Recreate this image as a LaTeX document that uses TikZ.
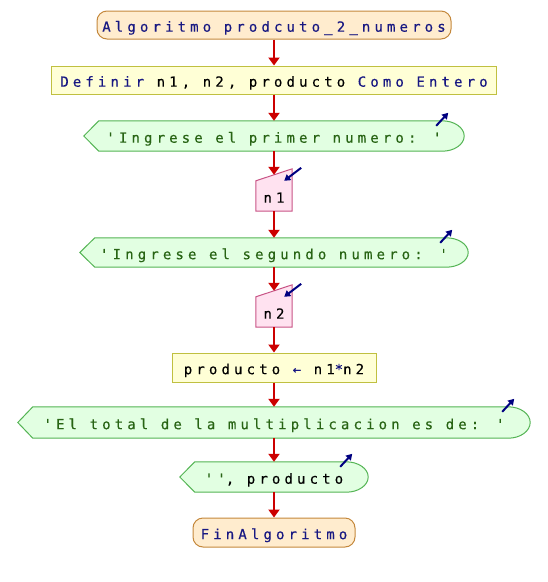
\documentclass[tikz,border=0pt]{standalone}
\usepackage{fontspec}
\usetikzlibrary{arrows.meta,backgrounds,calc}
\newfontfamily\psmono[LetterSpace=29.5,FakeBold=0.35]{DejaVu Sans Mono}

\definecolor{termfill}{RGB}{255,236,206}
\definecolor{termdraw}{RGB}{196,136,60}
\definecolor{procfill}{RGB}{255,255,214}
\definecolor{procdraw}{RGB}{192,192,64}
\definecolor{outfill}{RGB}{226,255,226}
\definecolor{outdraw}{RGB}{84,180,84}
\definecolor{infill}{RGB}{255,226,240}
\definecolor{indraw}{RGB}{200,84,134}
\definecolor{flowred}{RGB}{204,0,0}
\definecolor{iconblue}{RGB}{0,0,128}
\definecolor{kw}{RGB}{24,24,130}
\definecolor{strc}{RGB}{40,100,20}

\newcommand{\kwd}[1]{\textcolor{kw}{#1}}
\newcommand{\strg}[1]{\textcolor{strc}{#1}}

\tikzset{
  every node/.style={font=\psmono\fontsize{14}{16}\selectfont, inner sep=0pt,
    text=black, text height=16.4pt, text depth=3pt},
  terminal/.style={draw=termdraw, fill=termfill, rounded corners=10pt, line width=1pt},
  process/.style={draw=procdraw, fill=procfill, line width=1pt},
  outbox/.style={},
  inbox/.style={minimum width=36pt, minimum height=30pt},
  flow/.style={draw=flowred, line width=2pt, -{Triangle[length=8pt,width=11pt]}},
  icon/.style={draw=iconblue, line width=2pt, -{Triangle[length=6pt,width=7pt]}},
}

\begin{document}
\begin{tikzpicture}[x=1pt,y=-1pt]
\useasboundingbox (0,0) rectangle (548,582);

% blocks of the flowchart, top to bottom
\node[terminal, minimum width=354pt, minimum height=28pt] (start) at (274,25)
  {\kwd{Algoritmo prodcuto\_2\_numeros}};
\node[process, minimum width=445pt, minimum height=28pt] (def) at (274,80)
  {\kwd{Definir} n1, n2, producto \kwd{Como Entero}};
\node[outbox, minimum width=380pt, minimum height=30pt] (out1) at (274,136)
  {\strg{'Ingrese el primer numero: '}};
\node[inbox] (in1) at (274,196) {n1};
\node[outbox, minimum width=388pt, minimum height=29pt] (out2) at (274,252.5)
  {\strg{'Ingrese el segundo numero: '}};
\node[inbox] (in2) at (274,312) {n2};
\node[process, minimum width=204pt, minimum height=29pt] (asg) at (274,367.5)
  {producto \kwd{←} n1\kwd{*}n2};
\node[outbox, minimum width=512pt, minimum height=31pt] (out3) at (274,422.5)
  {\strg{'El total de la multiplicacion es de: '}};
\node[outbox, minimum width=188pt, minimum height=30pt] (out4) at (274,477)
  {\strg{''}, producto};
\node[terminal, minimum width=162pt, minimum height=29pt] (stop) at (274,532.5)
  {\kwd{FinAlgoritmo}};

% output shapes: pointed left end, rounded right end
\begin{scope}[on background layer]
\foreach \n in {out1,out2,out3,out4} {
  \draw[draw=outdraw, fill=outfill, line width=1pt]
    (\n.west) -- ([xshift=15pt]\n.north west)
    -- ([xshift=-22pt]\n.north east)
    .. controls ([xshift=-9.9pt]\n.north east) and ($(\n.north east)!0.448!(\n.east)$) .. (\n.east)
    .. controls ($(\n.east)!0.552!(\n.south east)$) and ([xshift=-9.9pt]\n.south east) .. ([xshift=-22pt]\n.south east)
    -- ([xshift=15pt]\n.south west) -- cycle;
}
% input shapes: slanted top edge
\foreach \n in {in1,in2} {
  \draw[draw=indraw, fill=infill, line width=1pt]
    (\n.south west) -- (\n.north west) -- ([yshift=12pt]\n.north east)
    -- (\n.south east) -- cycle;
}
\end{scope}

% direction marks on output and input blocks
\foreach \n in {out1,out2,out3,out4} {
  \draw[icon] ([xshift=-28pt,yshift=-5pt]\n.north east) -- ([xshift=-16pt,yshift=8pt]\n.north east);
}
\foreach \n in {in1,in2} {
  \draw[icon] ([xshift=9pt,yshift=13pt]\n.north east) -- ([xshift=-8pt]\n.north east);
}

% entry points on the slanted tops
\coordinate (in1top) at ([yshift=6pt]in1.north);
\coordinate (in2top) at ([yshift=6pt]in2.north);

% flow connectors
\draw[flow] (start.south) -- (def.north);
\draw[flow] (def.south) -- (out1.north);
\draw[flow] (out1.south) -- (in1top);
\draw[flow] (in1.south) -- (out2.north);
\draw[flow] (out2.south) -- (in2top);
\draw[flow] (in2.south) -- (asg.north);
\draw[flow] (asg.south) -- (out3.north);
\draw[flow] (out3.south) -- (out4.north);
\draw[flow] (out4.south) -- (stop.north);
\end{tikzpicture}
\end{document}
